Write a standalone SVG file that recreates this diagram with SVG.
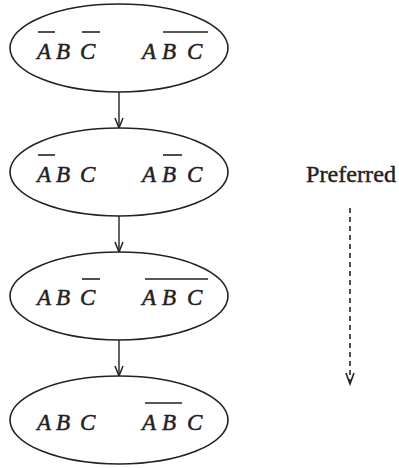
<svg xmlns="http://www.w3.org/2000/svg" width="399" height="468" viewBox="0 0 399 468">
  <style>
    .state { fill: #fff; stroke: #222; stroke-width: 1.6; }
    .v { font-family: "Liberation Serif", "DejaVu Serif", serif; font-style: italic; font-size: 23px; fill: #222; stroke: #222; stroke-width: 0.5; }
    .bar { stroke: #222; stroke-width: 1.6; fill: none; }
    .edge { stroke: #222; stroke-width: 1.4; fill: none; }
    .pref { font-family: "Liberation Serif", "DejaVu Serif", serif; font-size: 23px; fill: #222; stroke: #222; stroke-width: 0.4; }
  </style>
  <defs>
    <marker id="vee" markerWidth="12" markerHeight="10" refX="11" refY="5" orient="auto" markerUnits="userSpaceOnUse" viewBox="0 0 12 10">
      <path d="M1,1 L11,5 L1,9" fill="none" stroke="#222" stroke-width="1.5"/>
    </marker>
  </defs>

  <rect width="399" height="468" fill="#fff"/>

  <g id="connectors">
    <line class="edge" x1="119" y1="92" x2="119" y2="128" marker-end="url(#vee)"/>
    <line class="edge" x1="119" y1="216" x2="119" y2="252" marker-end="url(#vee)"/>
    <line class="edge" x1="119" y1="340" x2="119" y2="376" marker-end="url(#vee)"/>
  </g>

  <!-- A'BC' and A(BC)' -->
  <g id="s1">
    <ellipse class="state" cx="119" cy="48" rx="109" ry="44"/>
    <text class="v" x="37" y="59">A</text>
    <text class="v" x="56" y="59">B</text>
    <text class="v" x="80" y="59">C</text>
    <text class="v" x="142" y="59">A</text>
    <text class="v" x="162" y="59">B</text>
    <text class="v" x="187" y="59">C</text>
    <line class="bar" x1="38" y1="32" x2="55" y2="32"/>
    <line class="bar" x1="82" y1="32" x2="100" y2="32"/>
    <line class="bar" x1="163" y1="32" x2="208" y2="32"/>
  </g>

  <!-- A'BC and AB'C -->
  <g id="s2">
    <ellipse class="state" cx="119" cy="172" rx="109" ry="44"/>
    <text class="v" x="37" y="182">A</text>
    <text class="v" x="56" y="182">B</text>
    <text class="v" x="80" y="182">C</text>
    <text class="v" x="142" y="182">A</text>
    <text class="v" x="162" y="182">B</text>
    <text class="v" x="187" y="182">C</text>
    <line class="bar" x1="38" y1="155" x2="55" y2="155"/>
    <line class="bar" x1="163" y1="155" x2="182" y2="155"/>
  </g>

  <!-- ABC' and (ABC)' -->
  <g id="s3">
    <ellipse class="state" cx="119" cy="296" rx="109" ry="44"/>
    <text class="v" x="37" y="305">A</text>
    <text class="v" x="56" y="305">B</text>
    <text class="v" x="80" y="305">C</text>
    <text class="v" x="142" y="305">A</text>
    <text class="v" x="162" y="305">B</text>
    <text class="v" x="187" y="305">C</text>
    <line class="bar" x1="82" y1="279" x2="100" y2="279"/>
    <line class="bar" x1="145" y1="279" x2="208" y2="279"/>
  </g>

  <!-- ABC and (AB)'C -->
  <g id="s4">
    <ellipse class="state" cx="119" cy="420" rx="109" ry="44"/>
    <text class="v" x="37" y="430">A</text>
    <text class="v" x="56" y="430">B</text>
    <text class="v" x="80" y="430">C</text>
    <text class="v" x="142" y="430">A</text>
    <text class="v" x="162" y="430">B</text>
    <text class="v" x="187" y="430">C</text>
    <line class="bar" x1="145" y1="403" x2="182" y2="403"/>
  </g>

  <!-- preference direction -->
  <g id="preferred">
    <text class="pref" x="306" y="182" textLength="90" lengthAdjust="spacingAndGlyphs">Preferred</text>
    <line x1="350" y1="208" x2="350" y2="382" stroke="#222" stroke-width="1.6" stroke-dasharray="5,4"/>
    <path d="M346,373 L350,384 L354,373" fill="none" stroke="#222" stroke-width="1.6"/>
  </g>
</svg>
